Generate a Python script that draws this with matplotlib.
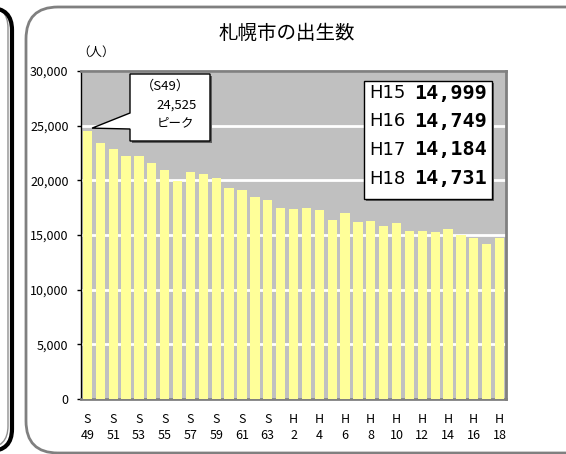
import matplotlib
matplotlib.use("Agg")
from matplotlib import pyplot as plt
from matplotlib.patches import FancyBboxPatch, Polygon, Rectangle
from matplotlib.transforms import IdentityTransform

plt.rcParams['font.family'] = ['Noto Sans CJK JP', 'DejaVu Sans']

# births per year, S49 (1974) .. H18 (2006)
years = ["S49", "S50", "S51", "S52", "S53", "S54", "S55", "S56", "S57", "S58",
         "S59", "S60", "S61", "S62", "S63", "H1", "H2", "H3", "H4", "H5",
         "H6", "H7", "H8", "H9", "H10", "H11", "H12", "H13", "H14", "H15",
         "H16", "H17", "H18"]
births = [24525, 23380, 22860, 22250, 22190, 21580, 20910, 19940, 20730, 20580,
          20240, 19300, 19110, 18500, 18200, 17470, 17410, 17440, 17310, 16370,
          17040, 16220, 16310, 15850, 16130, 15360, 15330, 15300, 15550, 14999,
          14749, 14184, 14731]
recent_years = ["H15", "H16", "H17", "H18"]
recent_values = [14999, 14749, 14184, 14731]

W, H = 566, 454
fig = plt.figure(figsize=(W / 100, H / 100), dpi=100)
px = IdentityTransform()  # pixel coords, origin bottom-left

def fx(p):
    return p / W

def fy(p):
    return 1 - p / H

def rbox(x0, y0, x1, y1, r, **kw):
    # rounded box given in image pixels (y downwards)
    p = FancyBboxPatch((x0, H - y1), x1 - x0, y1 - y0,
                       boxstyle="round,pad=0,rounding_size=%d" % r,
                       transform=px, fill=False, **kw)
    fig.patches.append(p)

# rounded panel borders
rbox(-300, 6, 8, 448, 22, edgecolor="#909090", linewidth=1)
rbox(-300, 8, 12, 451, 22, edgecolor="black", linewidth=3)
rbox(26, 7, 600, 453, 32, edgecolor="#808080", linewidth=2)

ax = fig.add_axes([fx(81), fy(399), fx(506) - fx(81), fy(71) - fy(399)])
ax.set_facecolor("#C0C0C0")
x = list(range(len(years)))
ax.bar(x, births, width=0.72, color="#FFFF99", zorder=3)
ax.set_xlim(-0.5, len(years) - 0.5)
ax.set_ylim(0, 30000)
ax.set_yticks(range(0, 30001, 5000))
ax.set_yticklabels(["{:,}".format(v) for v in range(0, 30001, 5000)], fontsize=9)
ax.yaxis.grid(True, color="white", linewidth=2, zorder=1)
ax.set_axisbelow(True)

ax.set_xticks(x[::2])
ax.set_xticklabels([y[0] + "\n" + y[1:] for y in years[::2]], fontsize=9,
                   linespacing=1.3)
ax.tick_params(axis="x", length=0, pad=10)
ax.tick_params(axis="y", length=3, width=1, color="black", pad=6)
for s in ["top", "right", "bottom"]:
    ax.spines[s].set_color("#808080")
    ax.spines[s].set_linewidth(2)
ax.spines["left"].set_color("black")
ax.spines["left"].set_linewidth(1)

fig.text(fx(287), fy(33), "札幌市の出生数", ha="center", va="center", fontsize=14)
fig.text(fx(96), fy(52), "（人）", ha="center", va="center", fontsize=9)

# peak callout
fig.canvas.draw()
tip = ax.transData.transform((0.36, births[0] + 250))
tip = fig.transFigure.inverted().transform(tip)
fig.patches.append(Rectangle((fx(132), fy(143)), fx(80), fy(76) - fy(143),
                             transform=fig.transFigure, facecolor="#606060",
                             edgecolor="none", zorder=5))
fig.patches.append(Polygon([(fx(130), fy(74)), (fx(210), fy(74)), (fx(210), fy(141)),
                            (fx(130), fy(141)), (fx(130), fy(129)), tuple(tip),
                            (fx(130), fy(113))],
                           closed=True, transform=fig.transFigure, facecolor="white",
                           edgecolor="black", linewidth=1, zorder=6))
fig.text(fx(165), fy(86), "（S49）", ha="center", va="center", fontsize=9.5, zorder=7)
fig.text(fx(177), fy(105), "{:,}".format(births[0]), ha="center", va="center",
         fontsize=9.5, zorder=7)
fig.text(fx(175), fy(123), "ピーク", ha="center", va="center", fontsize=9, zorder=7)

# recent values box
fig.patches.append(Rectangle((fx(366), fy(201)), fx(128), fy(83) - fy(201),
                             transform=fig.transFigure, facecolor="#606060",
                             edgecolor="none", zorder=5))
fig.patches.append(Rectangle((fx(364), fy(199)), fx(128), fy(81) - fy(199),
                             transform=fig.transFigure, facecolor="white",
                             edgecolor="black", linewidth=1, zorder=6))
for i in range(len(recent_years)):
    yy = 93 + i * 28.5
    fig.text(fx(369), fy(yy), recent_years[i], ha="left", va="center",
             fontsize=13, family="DejaVu Sans", zorder=7)
    fig.text(fx(487), fy(yy), "{:,}".format(recent_values[i]), ha="right", va="center",
             fontsize=14.5, family="DejaVu Sans Mono", weight="bold", zorder=7)

plt.savefig("out.png", dpi=100)
